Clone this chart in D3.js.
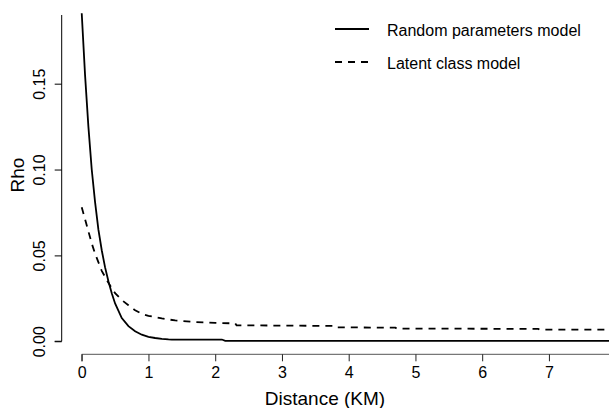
<!DOCTYPE html>
<html>
<head>
    <meta charset="UTF-8">
    <title>Rho vs Distance</title>
    <script src="https://d3js.org/d3.v7.min.js"></script>
    <style>
        *{
            padding:0;
            margin:0;
        }
        body { background: #fff; }
        text {
            font-family: "Liberation Sans", Arial, sans-serif;
            fill: #000;
        }
        .curve {
            fill: none;
            stroke: #000;
            stroke-width: 1.8px;
        }
    </style>
</head>
<body>
    <svg id="main" width="609" height="408"></svg>
    <script>
// values
const rpDist = [0, 0.05, 0.1, 0.15, 0.2, 0.25, 0.3, 0.35, 0.4, 0.45, 0.5, 0.6, 0.7, 0.8, 0.9, 1.0, 1.1, 1.2, 1.3, 1.35, 2.1, 2.15, 7.9];
const rpRho  = [0.191, 0.155, 0.125, 0.100, 0.081, 0.065, 0.053, 0.043, 0.035, 0.028, 0.022, 0.0135, 0.0088, 0.0058, 0.0038, 0.0026, 0.0019, 0.0014, 0.0011, 0.0010, 0.0010, 0.0002, 0.0002];

const lcDist = [0, 0.05, 0.1, 0.15, 0.2, 0.3, 0.4, 0.5, 0.6, 0.7, 0.8, 0.9, 1.0, 1.2, 1.4, 1.7, 2.0, 2.3, 2.32, 3.8, 3.82, 4.7, 4.72, 6.84, 6.86, 7.9];
const lcRho  = [0.078, 0.071, 0.064, 0.057, 0.051, 0.041, 0.034, 0.028, 0.024, 0.021, 0.018, 0.016, 0.0148, 0.0133, 0.0121, 0.0112, 0.0107, 0.0104, 0.0093, 0.0089, 0.0081, 0.0079, 0.0074, 0.0072, 0.0068, 0.0068];

const xTicks = [0, 1, 2, 3, 4, 5, 6, 7];
const yTicks = [0, 0.05, 0.10, 0.15];
const legendLabels = ["Random parameters model", "Latent class model"];

const svg = d3.select("#main");

const x = d3.scaleLinear().domain([-0.3, 7.9]).range([61.7, 609]);
const y = d3.scaleLinear().domain([-0.0076, 0.19]).range([354.3, 15]);

// x axis
const xAxis = svg.append("g")
    .attr("transform", `translate(0,${y(-0.0076)})`)
    .call(d3.axisBottom(x).tickValues(xTicks).tickSize(7).tickPadding(5).tickFormat(d3.format("d")));
xAxis.select(".domain").attr("d", `M${x(0)},7V0H609`).attr("stroke", "#555");
xAxis.selectAll(".tick line").attr("stroke", "#222");
xAxis.selectAll("text").attr("font-size", 16).style("font-family", "Liberation Sans, Arial, sans-serif");

// y axis
const yAxis = svg.append("g")
    .attr("transform", `translate(${x(-0.3)},0)`)
    .call(d3.axisLeft(y).tickValues(yTicks).tickSize(7).tickFormat(d3.format(".2f")));
yAxis.select(".domain").attr("d", `M-7,${y(0)}H0V${y(0.19)}`);
yAxis.selectAll(".tick text")
    .attr("font-size", 16)
    .style("font-family", "Liberation Sans, Arial, sans-serif")
    .attr("text-anchor", "middle")
    .attr("x", null).attr("dy", null)
    .attr("dominant-baseline", "central")
    .attr("transform", "translate(-22,0) rotate(-90)");

// axis titles
svg.append("text")
    .attr("x", 325).attr("y", 405)
    .attr("text-anchor", "middle")
    .attr("font-size", 19)
    .text("Distance (KM)");

svg.append("text")
    .attr("transform", `translate(17,175) rotate(-90)`)
    .attr("text-anchor", "middle")
    .attr("dominant-baseline", "central")
    .attr("font-size", 19)
    .text("Rho");

// curves
const line = d3.line().x(d => x(d[0])).y(d => y(d[1]));

svg.append("path")
    .datum(d3.zip(rpDist, rpRho))
    .attr("class", "curve")
    .attr("d", line);

svg.append("path")
    .datum(d3.zip(lcDist, lcRho))
    .attr("class", "curve")
    .attr("stroke-dasharray", "7,6")
    .attr("d", line);

// legend
const legend = svg.append("g").attr("class", "legend");
legendLabels.forEach((label, i) => {
    const ly = 29 + i * 33;
    legend.append("line")
        .attr("x1", 335).attr("x2", 369)
        .attr("y1", ly).attr("y2", ly)
        .attr("class", "curve")
        .attr("stroke-dasharray", i === 1 ? "7,6" : null);
    legend.append("text")
        .attr("x", 387).attr("y", ly + 1)
        .attr("dominant-baseline", "central")
        .attr("font-size", 16)
        .text(label);
});
    </script>
</body>
</html>
